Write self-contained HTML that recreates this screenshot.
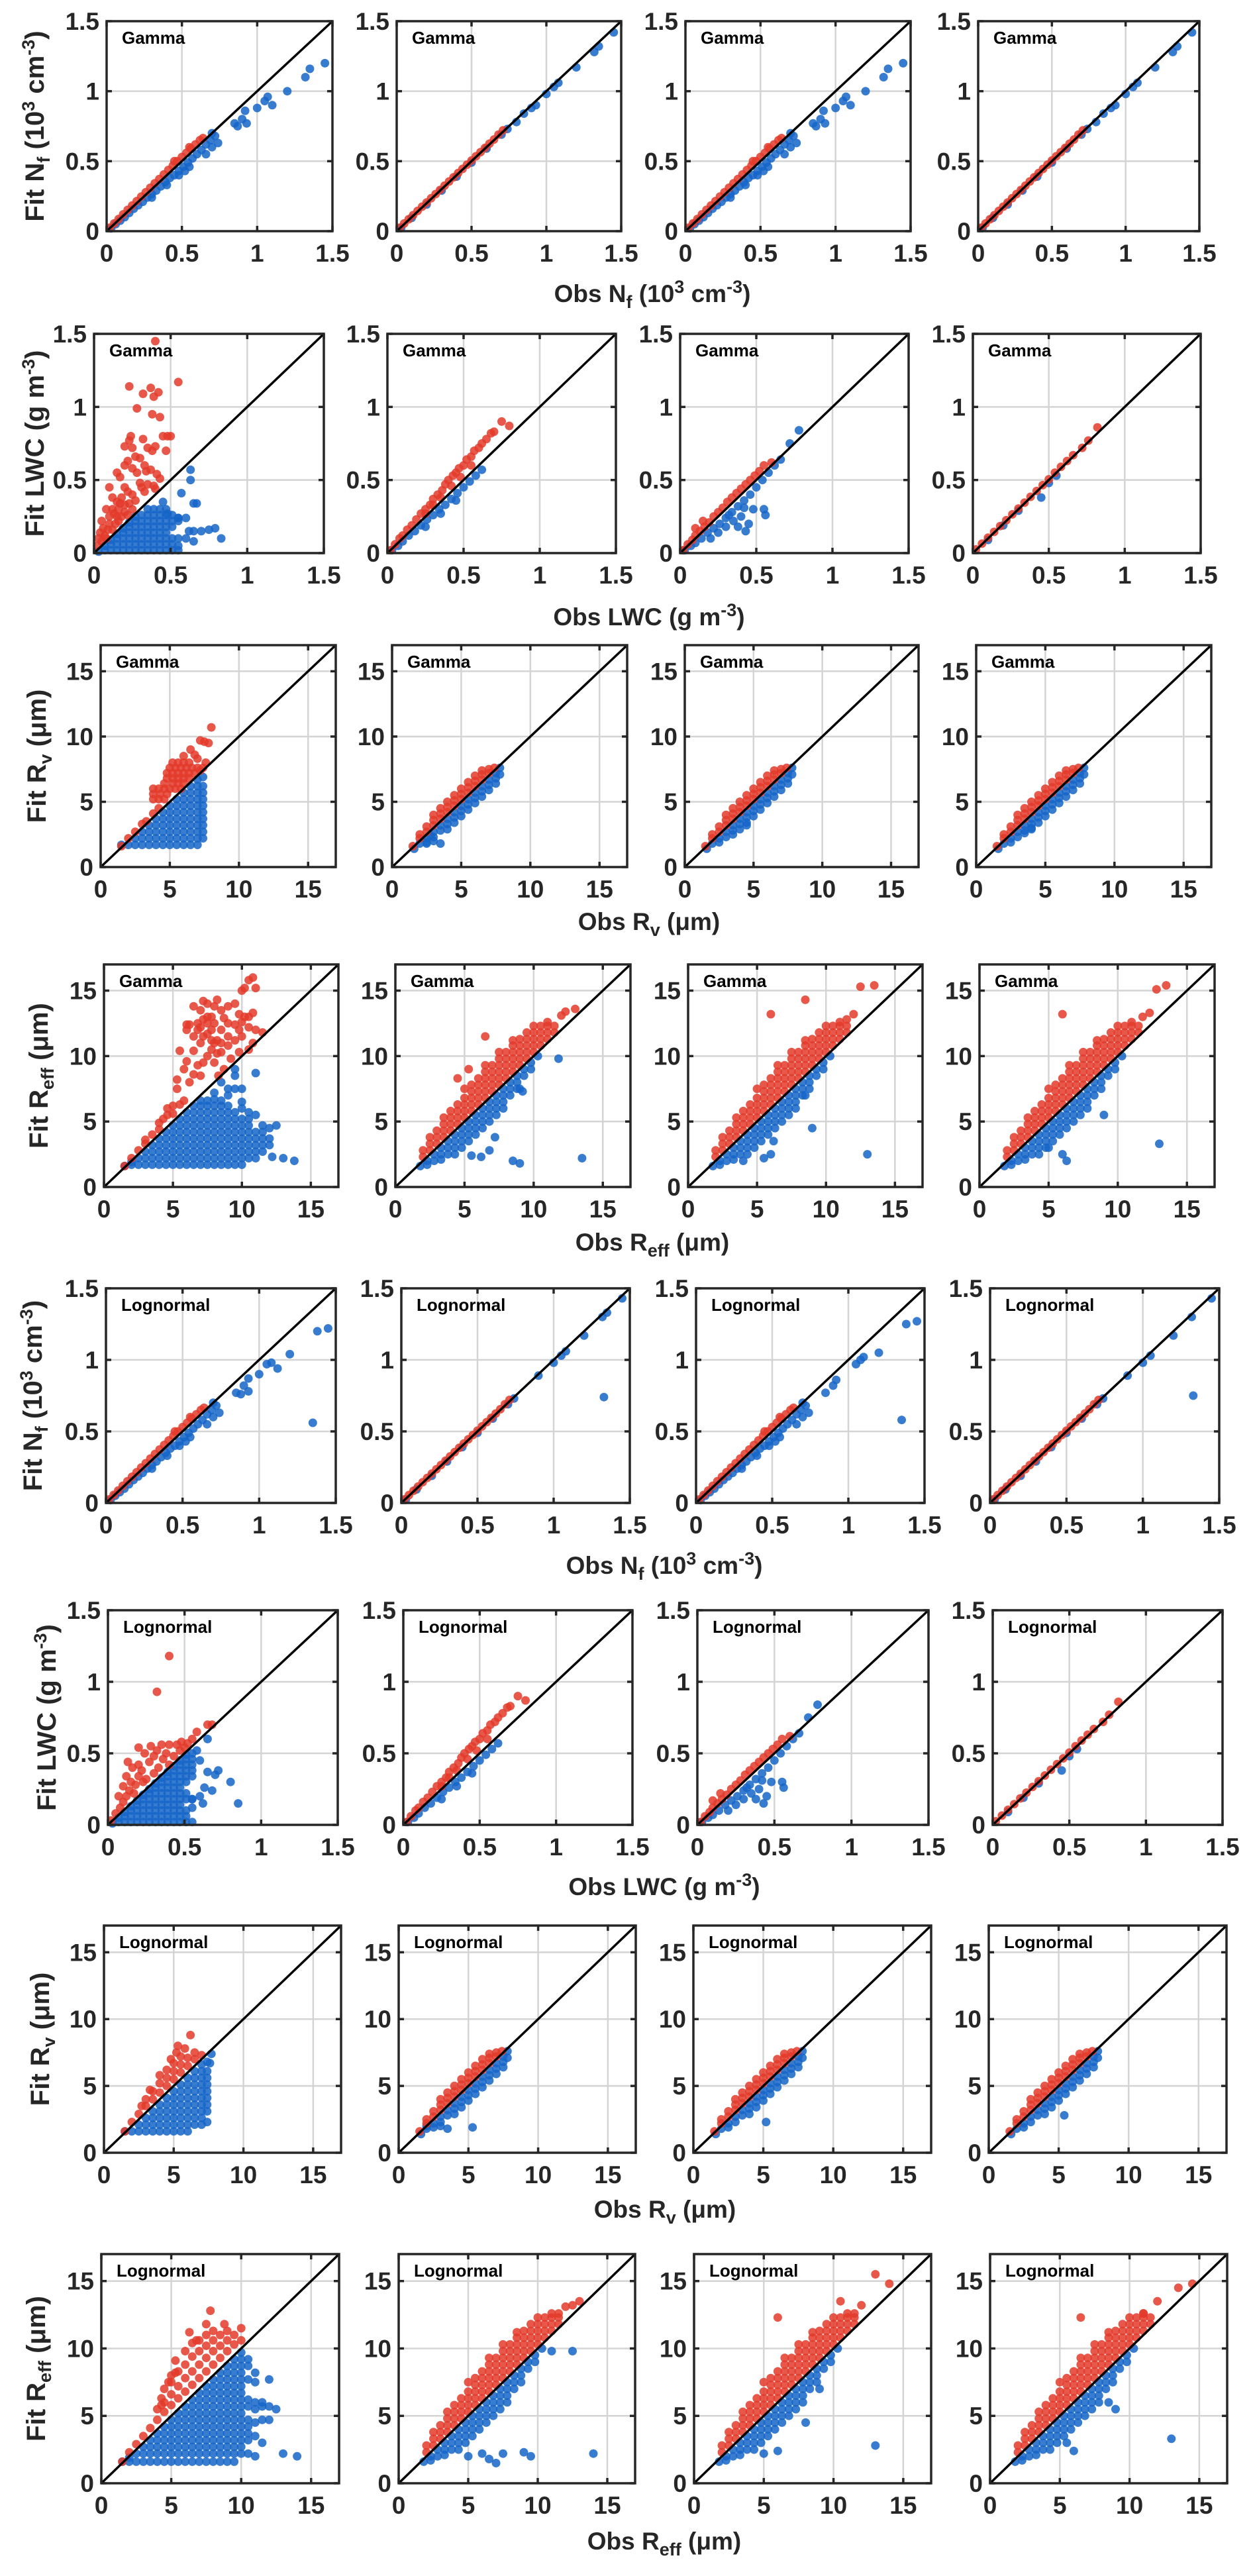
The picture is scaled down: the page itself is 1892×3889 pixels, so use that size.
<!DOCTYPE html>
<html><head><meta charset="utf-8"><title>Fit vs Obs scatter panels</title>
<style>
html,body{margin:0;padding:0;background:#fff;}
svg{display:block;font-family:"Liberation Sans",Arial,sans-serif;font-weight:bold;}
</style></head>
<body>
<svg id="fig" width="1892" height="3889" viewBox="0 0 1892 3889" xmlns="http://www.w3.org/2000/svg"></svg>
<script>
// ---------- DATA (entries are [x,y] or [x,[y1,y2,...]]) ----------
const nfTicks = [0, 0.5, 1, 1.5];
const nfTickLabels = ['0', '0.5', '1', '1.5'];
const rTicks = [0, 5, 10, 15];
const rTickLabels = ['0', '5', '10', '15'];

// Nf
const nfAboveRed = [[0.02,0.025],[0.05,0.056],[0.08,0.087],[0.11,0.12],[0.14,0.152],[0.17,0.183],[0.2,0.215],[0.23,0.247],[0.26,0.278],[0.29,0.31],[0.32,0.342],[0.35,0.373],[0.38,0.405],[0.41,0.437],[0.44,0.468],[0.47,0.5],[0.5,0.53],[0.53,0.56],[0.56,0.59],[0.59,0.62],[0.62,0.65],[0.64,0.665],[0.45,0.5],[0.55,0.6]];
const nfBelowBlue = [[0.03,0.02],[0.06,0.05],[0.09,0.075],[0.12,0.1],[0.15,0.13],[0.18,0.16],[0.21,0.185],[0.24,0.21],[0.27,0.24],[0.3,0.265],[0.33,0.29],[0.36,0.32],[0.39,0.35],[0.42,0.38],[0.45,0.4],[0.48,0.43],[0.51,0.46],[0.54,0.49],[0.57,0.52],[0.6,0.55],[0.63,0.58],[0.66,0.62],[0.69,0.65],[0.72,0.68],[0.3,0.24],[0.4,0.33],[0.48,0.4],[0.52,0.43],[0.55,0.46],[0.7,0.6],[0.74,0.63],[0.66,0.55],[0.7,0.7]];
const nfOnRed = [[0.02,0.025],[0.05,0.055],[0.08,0.085],[0.11,0.115],[0.14,0.145],[0.17,0.175],[0.2,0.205],[0.23,0.235],[0.26,0.265],[0.29,0.295],[0.32,0.325],[0.35,0.355],[0.38,0.385],[0.41,0.415],[0.44,0.445],[0.47,0.475],[0.5,0.505],[0.53,0.535],[0.56,0.565],[0.59,0.595],[0.62,0.625],[0.65,0.655],[0.68,0.69],[0.71,0.72]];
const nfOnBlue = [[0.03,0.025],[0.1,0.095],[0.2,0.19],[0.3,0.29],[0.4,0.39],[0.5,0.49],[0.6,0.59],[0.7,0.69],[0.74,0.73]];
const nfG1Out = [[0.85,0.77],[0.87,0.75],[0.9,0.8],[0.92,0.86],[0.93,0.77],[1.0,0.88],[1.05,0.93],[1.07,0.96],[1.1,0.9],[1.2,1.0],[1.32,1.1],[1.35,1.16],[1.45,1.2]];
const nfG2Out = [[0.8,0.78],[0.85,0.84],[0.9,0.88],[0.93,0.9],[1.0,0.98],[1.05,1.03],[1.08,1.06],[1.2,1.17],[1.32,1.28],[1.35,1.32],[1.45,1.42]];
const nfL1Out = [[0.85,0.77],[0.88,0.76],[0.9,0.82],[0.93,0.78],[0.93,0.87],[1.0,0.9],[1.05,0.97],[1.08,0.98],[1.12,0.94],[1.2,1.04],[1.35,0.56],[1.38,1.2],[1.45,1.22]];
const nfL2Out = [[0.9,0.89],[1.0,0.98],[1.05,1.03],[1.08,1.06],[1.2,1.17],[1.32,1.3],[1.35,1.33],[1.45,1.43],[1.33,0.74]];
const nfL3Out = [[0.85,0.77],[0.9,0.82],[0.92,0.86],[1.05,0.97],[1.08,1.0],[1.1,1.02],[1.2,1.05],[1.35,0.58],[1.38,1.25],[1.45,1.27]];
const nfL4Out = [[0.9,0.89],[1.0,0.98],[1.05,1.03],[1.2,1.17],[1.32,1.3],[1.45,1.43],[1.33,0.75]];

// LWC
const lwcG1Red = [[0.4,1.45],[0.55,1.17],[0.23,1.14],[0.37,1.13],[0.32,1.09],[0.42,1.1],[0.39,1.07],[0.28,0.99],[0.38,0.95],[0.43,0.93],[0.45,0.8],[0.48,0.8],[0.5,0.8],[0.24,0.8],[0.23,0.77],[0.32,0.78],[0.2,0.73],[0.25,0.72],[0.35,0.72],[0.38,0.7],[0.4,0.73],[0.47,0.7],[0.27,0.66],[0.3,0.65],[0.33,0.6],[0.22,0.63],[0.2,0.6],[0.25,0.58],[0.28,0.55],[0.34,0.56],[0.37,0.57],[0.41,0.54],[0.43,0.51],[0.15,0.55],[0.17,0.52],[0.3,0.48],[0.31,0.45],[0.35,0.47],[0.39,0.46],[0.4,0.44],[0.33,0.42],[0.1,0.45],[0.2,0.45],[0.22,0.42],[0.25,0.4],[0.18,0.38],[0.12,0.38],[0.27,0.36],[0.15,0.35],[0.2,0.33],[0.08,0.3],[0.12,0.3],[0.16,0.3],[0.2,0.28],[0.25,0.3],[0.05,0.22],[0.1,0.25],[0.15,0.25],[0.22,0.26],[0.06,0.17],[0.1,0.2],[0.14,0.2],[0.03,0.1],[0.07,0.12],[0.12,0.16],[0.02,0.05],[0.05,0.08],[0.08,0.1],[0.16,0.22],[0.18,0.25],[0.04,0.14],[0.09,0.16],[0.13,0.27],[0.17,0.34],[0.23,0.34]];
const lwcG1Blue = [[0.03,[0.01]],[0.07,[0.02,0.05]],[0.11,[0.02,0.06,0.09]],[0.15,[0.02,0.06,0.1,0.13]],[0.19,[0.02,0.06,0.1,0.14,0.17]],[0.23,[0.02,0.06,0.1,0.14,0.18,0.21]],[0.27,[0.02,0.06,0.1,0.14,0.18,0.22,0.25]],[0.31,[0.02,0.06,0.1,0.14,0.18,0.22,0.26]],[0.35,[0.02,0.06,0.1,0.14,0.18,0.22,0.26,0.3]],[0.39,[0.02,0.06,0.1,0.14,0.18,0.22,0.26,0.3]],[0.43,[0.02,0.06,0.1,0.14,0.18,0.22,0.26,0.3]],[0.47,[0.02,0.06,0.1,0.14,0.18,0.22,0.26,0.3]],[0.51,[0.02,0.06,0.1,0.18,0.22,0.26]],[0.55,[0.02,0.1,0.22,0.24]],[0.63,0.57],[0.63,0.5],[0.57,0.41],[0.67,0.34],[0.65,0.34],[0.6,0.24],[0.55,0.24],[0.62,0.15],[0.65,0.15],[0.7,0.15],[0.75,0.16],[0.79,0.17],[0.83,0.1],[0.6,0.1],[0.65,0.08],[0.55,0.05],[0.45,0.35],[0.48,0.27]];
const lwcStepRed = [[0.02,0.02],[0.05,0.06],[0.08,0.1],[0.1,0.12],[0.13,0.16],[0.16,0.19],[0.19,0.23],[0.22,0.27],[0.25,0.3],[0.28,0.33],[0.3,0.37],[0.33,0.4],[0.36,0.43],[0.38,0.47],[0.4,0.5],[0.43,0.53],[0.45,0.55],[0.47,0.58],[0.5,0.6],[0.52,0.64],[0.55,0.66],[0.57,0.7],[0.6,0.72],[0.62,0.75],[0.65,0.78],[0.68,0.82],[0.7,0.83],[0.75,0.9],[0.8,0.87],[0.35,0.38],[0.42,0.46],[0.48,0.52],[0.55,0.6],[0.3,0.33],[0.25,0.27]];
const lwcStepBlue = [[0.03,0.02],[0.07,0.05],[0.1,0.08],[0.14,0.12],[0.18,0.15],[0.22,0.19],[0.26,0.23],[0.3,0.26],[0.34,0.3],[0.38,0.33],[0.42,0.37],[0.46,0.41],[0.5,0.45],[0.54,0.49],[0.58,0.53],[0.62,0.57],[0.45,0.36],[0.35,0.27],[0.25,0.18]];
const lwcMidRed = [[0.02,0.02],[0.05,0.06],[0.08,0.09],[0.1,0.12],[0.13,0.15],[0.16,0.18],[0.19,0.21],[0.22,0.25],[0.25,0.28],[0.28,0.31],[0.31,0.35],[0.34,0.38],[0.37,0.41],[0.4,0.44],[0.43,0.47],[0.46,0.5],[0.49,0.53],[0.52,0.56],[0.55,0.6],[0.6,0.62],[0.15,0.22],[0.1,0.17]];
const lwcMidBlue = [[0.03,0.02],[0.07,0.05],[0.1,0.07],[0.14,0.1],[0.18,0.14],[0.22,0.17],[0.26,0.2],[0.3,0.24],[0.34,0.28],[0.38,0.32],[0.42,0.36],[0.46,0.4],[0.5,0.45],[0.54,0.5],[0.58,0.55],[0.62,0.6],[0.66,0.64],[0.72,0.75],[0.78,0.84],[0.2,0.1],[0.25,0.14],[0.3,0.18],[0.35,0.22],[0.4,0.25],[0.43,0.15],[0.45,0.2],[0.55,0.3],[0.56,0.26],[0.48,0.3],[0.38,0.18],[0.32,0.26],[0.42,0.31]];
const lwcOnRed = [[0.02,0.025],[0.06,0.065],[0.1,0.105],[0.14,0.145],[0.18,0.185],[0.22,0.225],[0.26,0.265],[0.3,0.305],[0.34,0.345],[0.38,0.385],[0.42,0.425],[0.46,0.465],[0.5,0.505],[0.54,0.55],[0.58,0.59],[0.62,0.63],[0.66,0.67],[0.72,0.72],[0.76,0.77],[0.82,0.86]];
const lwcOnBlue = [[0.1,0.09],[0.2,0.19],[0.3,0.29],[0.45,0.38],[0.5,0.48],[0.55,0.53]];
const lwcL1Red = [[0.02,0.03],[0.05,0.08],[0.08,0.12],[0.1,0.16],[0.12,0.2],[0.14,0.24],[0.15,0.3],[0.18,0.28],[0.2,0.34],[0.2,0.42],[0.22,0.38],[0.24,0.5],[0.25,0.32],[0.27,0.44],[0.28,0.55],[0.3,0.36],[0.3,0.48],[0.32,0.52],[0.33,0.4],[0.35,0.56],[0.36,0.46],[0.38,0.5],[0.4,0.42],[0.4,0.56],[0.43,0.48],[0.45,0.56],[0.47,0.52],[0.48,0.58],[0.5,0.54],[0.12,0.34],[0.16,0.4],[0.1,0.27],[0.07,0.2],[0.4,1.18],[0.32,0.93],[0.68,0.7],[0.65,0.7],[0.58,0.65],[0.55,0.6],[0.52,0.57],[0.23,0.3],[0.17,0.22],[0.13,0.44],[0.2,0.54]];
const lwcL1Blue = [[0.03,[0.01]],[0.07,[0.02,0.05]],[0.11,[0.02,0.06,0.09]],[0.15,[0.02,0.06,0.1,0.13]],[0.19,[0.02,0.06,0.1,0.14,0.17]],[0.23,[0.02,0.06,0.1,0.14,0.18,0.21]],[0.27,[0.02,0.06,0.1,0.14,0.18,0.22,0.25]],[0.31,[0.02,0.06,0.1,0.14,0.18,0.22,0.26,0.29]],[0.35,[0.02,0.06,0.1,0.14,0.18,0.22,0.26,0.3,0.33]],[0.39,[0.02,0.06,0.1,0.14,0.18,0.22,0.26,0.3,0.34,0.37]],[0.43,[0.02,0.06,0.1,0.14,0.18,0.22,0.26,0.3,0.34,0.38,0.41]],[0.47,[0.02,0.06,0.1,0.14,0.18,0.22,0.26,0.3,0.34,0.38,0.42,0.45]],[0.51,[0.02,0.06,0.1,0.18,0.22,0.3,0.34,0.38,0.42,0.46,0.49]],[0.55,[0.02,0.12,0.18,0.34,0.38,0.42,0.46,0.5]],[0.65,0.6],[0.65,0.37],[0.7,0.35],[0.72,0.38],[0.8,0.3],[0.6,0.2],[0.55,0.18],[0.62,0.15],[0.85,0.15],[0.58,0.52],[0.6,0.45],[0.63,0.26],[0.68,0.24]];

// Rv
const rvBandRed = [[1.5,[1.6]],[2,[2.2,2.5]],[2.5,[2.7,3.1]],[3,[3.2,3.6,4.0]],[3.5,[3.7,4.1,4.5]],[4,[4.2,4.6,5.0]],[4.5,[4.7,5.1,5.5]],[5,[5.2,5.6,6.0]],[5.5,[5.7,6.1,6.5]],[6,[6.2,6.6,7.0]],[6.5,[6.7,7.1,7.4]],[7,[7.2,7.5]],[7.4,[7.6]]];
const rvBandBlue = [[1.6,[1.4]],[2,[1.8]],[2.5,[2.2,1.9]],[3,[2.7,2.3]],[3.5,[3.2,2.8]],[4,[3.7,3.3,2.9]],[4.5,[4.2,3.8,3.4]],[5,[4.7,4.3,3.9]],[5.5,[5.2,4.8,4.4]],[6,[5.7,5.3,4.9]],[6.5,[6.2,5.8,5.4]],[7,[6.7,6.3,5.9]],[7.5,[7.2,6.8,6.4]],[7.8,[7.6,7.1]]];
const rvG2Out = [[2.5,1.8],[3,2.0],[3.5,1.8],[2.8,2.4]];
const rvG3Out = [[3.5,2.5],[4.5,3.2]];
const rvG4Out = [[3.5,2.6],[4,3.0]];
const rvL2Out = [[2,2],[3,2],[3.5,1.8],[5.3,1.9]];
const rvL3Out = [[5.2,2.3]];
const rvL4Out = [[5.4,2.8]];
const rvG1Red = [[1.5,[1.6]],[2,[2.2]],[2.5,[2.7]],[3,[3.3]],[3.3,[3.5]],[3.8,[4.1,5.2,5.6,6.0]],[4.2,[4.5,5.2,6.0]],[4.3,[5.6]],[4.6,[5.2,6.0,6.4]],[4.8,[5.6,6.8,7.2]],[5.0,[6.0,7.6]],[5.2,[6.4,6.8,7.2,8.0]],[5.4,[6.0,7.6]],[5.6,[6.4,6.8,7.2,8.0]],[5.8,[6.0,7.6]],[6.0,[6.4,6.8,7.2,8.0,8.5]],[6.2,[7.6]],[6.4,[6.8,7.2,8.0]],[6.6,[7.6]],[6.8,[7.2,8.6]],[7.0,[7.6,8.3]],[7.2,[7.4,9.7]],[7.4,[7.6]],[7.6,[8.0]],[6.5,[9.0]],[7.5,[9.6]],[7.8,[9.5]],[8,[10.7]]];
const rvG1Blue = [[1.5,[1.7]],[2,[1.7]],[2.5,[1.7,2.2]],[3,[1.7,2.2,2.7]],[3.5,[1.7,2.2,2.7,3.2]],[4,[1.7,2.2,2.7,3.2,3.7]],[4.5,[1.7,2.2,2.7,3.2,3.7,4.2]],[5,[1.7,2.2,2.7,3.2,3.7,4.2,4.7]],[5.5,[1.7,2.2,2.7,3.2,3.7,4.2,4.7,5.2]],[6,[1.7,2.2,2.7,3.2,3.7,4.2,4.7,5.2,5.7]],[6.5,[1.7,2.2,2.7,3.2,3.7,4.2,4.7,5.2,5.7,6.2]],[7,[1.7,2.2,2.7,3.2,3.7,4.2,4.7,5.2,5.7,6.2,6.7]],[7.4,[2.2,2.7,3.2,3.7,4.2,4.7,5.2,5.7,6.2,6.9]]];
const rvL1Red = [[1.5,[1.6]],[2,[2.3]],[2.5,[2.9]],[2.7,[3.5]],[3,[3.5,4.0]],[3.3,[4.7]],[3.5,[4.0,4.6]],[4,[4.5,5.2,5.8]],[4.5,[5.0,5.6,6.2]],[4.8,[7.0]],[5,[5.5,6.1,6.7]],[5.2,[7.5]],[5.3,[8.0]],[5.5,[6.0,6.6,7.2]],[5.8,[7.8]],[6,[6.5,7.1]],[6.2,[8.8]],[6.5,[7.0,7.5]],[7,[7.3]]];
const rvL1Blue = [[1.5,[1.6]],[2,[1.6]],[2.5,[1.6,2.1]],[3,[1.6,2.1,2.6]],[3.5,[1.6,2.1,2.6,3.1]],[4,[1.6,2.1,2.6,3.1,3.6]],[4.5,[1.6,2.1,2.6,3.1,3.6,4.1]],[5,[1.6,2.1,2.6,3.1,3.6,4.1,4.6]],[5.5,[1.6,2.1,2.6,3.1,3.6,4.1,4.6,5.1]],[6,[1.6,2.1,2.6,3.1,3.6,4.1,4.6,5.1,5.6]],[6.5,[2.1,2.6,3.1,3.6,4.1,4.6,5.1,5.6,6.1]],[7,[2.1,2.6,3.1,3.6,4.1,4.6,5.1,5.6,6.1,6.6]],[7.4,[2.3,3.1,3.6,4.1,4.6,5.1,5.6,6.1,6.8]],[7.7,[7.4]],[7.6,[6.7]]];

// Reff
const reffBandRed = [[2,[2.3,2.8]],[2.5,[2.8,3.3,3.8]],[3,[3.3,3.8,4.3]],[3.5,[3.8,4.3,4.8,5.3]],[4,[4.3,4.8,5.3,5.8]],[4.5,[4.8,5.3,5.8,6.3]],[5,[5.3,5.8,6.3,6.8,7.5]],[5.5,[5.8,6.3,6.8,7.3,7.8]],[6,[6.3,6.8,7.3,7.8,8.3]],[6.5,[6.8,7.3,7.8,8.3,8.8,9.3]],[7,[7.3,7.8,8.3,8.8,9.3]],[7.5,[7.8,8.3,8.8,9.3,9.8,10.3]],[8,[8.3,8.8,9.3,9.8,10.3]],[8.5,[8.8,9.3,9.8,10.3,10.8,11.2]],[9,[9.3,9.8,10.3,10.8,11.3]],[9.5,[9.8,10.3,10.8,11.3,11.8]],[10,[10.3,10.8,11.3,11.8,12.3]],[10.5,[10.8,11.3,11.8,12.3]],[11,[11.3,11.8,12.3,12.6]],[11.5,[11.8,12.3]]];
const reffBandBlue = [[1.8,[1.6]],[2.3,[2.0,1.7]],[2.8,[2.5,2.0]],[3.3,[3.0,2.5,2.1]],[3.8,[3.5,3.0,2.5]],[4.3,[4.0,3.5,3.0,2.5]],[4.8,[4.5,4.0,3.5,3.0]],[5.3,[5.0,4.5,4.0,3.5]],[5.8,[5.5,5.0,4.5,4.0]],[6.3,[6.0,5.5,5.0,4.5]],[6.8,[6.5,6.0,5.5,5.0]],[7.3,[7.0,6.5,6.0,5.5]],[7.8,[7.5,7.0,6.5,6.0]],[8.3,[8.0,7.5,7.0]],[8.8,[8.5,8.0,7.5]],[9.3,[9.0,8.5]],[9.8,[9.5,9.0]],[10.3,[10.0]]];
const reffG2RedOut = [[6.5,11.5],[4.5,8.3],[5.3,9.0],[12.3,13.4],[13,13.6],[12,13.1]];
const reffG2BlueOut = [[6.2,2.3],[6.8,2.8],[8.5,2.0],[9,1.8],[13.5,2.2],[5.5,2.4],[7.2,3.8],[11.8,9.8],[9,7.5],[9.2,7.3]];
const reffG3RedOut = [[6,13.2],[8.5,14.3],[12.5,15.3],[13.5,15.4],[12,13.2],[11.5,12.8]];
const reffG3BlueOut = [[9,4.5],[6,2.5],[5.5,2.2],[13,2.5],[8.5,7],[6.2,3.5],[4,2]];
const reffG4RedOut = [[6,13.2],[12.8,15.1],[13.5,15.4],[11.8,13],[12.3,13.3]];
const reffG4BlueOut = [[9,5.5],[13,3.3],[6,2.5],[6.3,2],[5,3]];
const reffL2RedOut = [[13,13.5],[12,13.1],[11.5,12.6],[12.5,13.2]];
const reffL2BlueOut = [[9.5,2.0],[14,2.2],[12.5,9.8],[11,9.8],[5,2],[6,2.2],[7,1.5],[7.5,2.2],[6.5,1.8],[9,2.3]];
const reffL3RedOut = [[12,13.2],[13,15.5],[14,14.8],[6,12.3],[10.5,13.5],[11.5,12.6]];
const reffL3BlueOut = [[8,4.5],[5,2.2],[13,2.8],[9,7],[6,2.4]];
const reffL4RedOut = [[12,13.5],[13.5,14.5],[14.5,14.8],[6.5,12.3],[11,12.6]];
const reffL4BlueOut = [[13,3.3],[6,2.4],[9,5.5],[8.5,6],[5.5,3]];
const reffG1Red = [[1.5,[1.6]],[2,[2.2]],[2.5,[2.8]],[3,[3.3,3.6]],[3.5,[4.0]],[4,[4.4,4.9]],[4.3,[5.2]],[4.6,[5.5,6.0]],[5,[5.6,6.2]],[5.3,[7.5,8.2]],[5.5,[6.3,10.4]],[5.8,[9.0,6.6]],[6,[9.6,12.0,12.4]],[6.2,[8.0,12.4]],[6.5,[8.6,10.4,11.5,13.8]],[6.8,[9.3,12.5,12.0]],[7,[8.5,11.0,13.5,12.2]],[7.2,[9.5,12.8,14.2,11.5]],[7.5,[10.0,11.7,14.0,13.0,12.5]],[7.8,[10.5,13.0,12.0,11.2]],[8,[9.5,12.5,13.8,11.0]],[8.2,[11.2,14.3,10.2]],[8.5,[10.3,12.0,13.5,11.0]],[8.7,[9.0,12.9]],[9,[10.8,12.5,13.8,11.5]],[9.2,[9.8]],[9.5,[11.2,12.4,14.0]],[9.8,[10.3,13.2,12.0]],[10,[11.5,12.6,15.0]],[10.2,[15.2,13.0]],[10.5,[10.5,13.0,15.8,12.2]],[10.8,[11.0,13.3,16.0]],[11,[12.0,15.2]],[11.5,[11.8]],[8.3,[8.5]]];
const reffG1Blue = [[1.5,[1.6]],[2,[1.7,1.9]],[2.5,[1.7,2.2]],[3,[1.7,2.2,2.7]],[3.5,[1.7,2.2,2.7,3.2]],[4,[1.7,2.2,2.7,3.2,3.7]],[4.5,[1.7,2.2,2.7,3.2,3.7,4.2]],[5,[1.7,2.2,2.7,3.2,3.7,4.2,4.7]],[5.5,[1.7,2.2,2.7,3.2,3.7,4.2,4.7,5.2]],[6,[1.7,2.2,2.7,3.2,3.7,4.2,4.7,5.2,5.7]],[6.5,[1.7,2.2,2.7,3.2,3.7,4.2,4.7,5.2,5.7,6.2]],[7,[1.7,2.2,2.7,3.2,3.7,4.2,4.7,5.2,5.7,6.2,6.6]],[7.5,[1.7,2.2,2.7,3.2,3.7,4.2,4.7,5.2,5.7,6.2,6.6]],[8,[1.7,2.2,2.7,3.2,3.7,4.2,4.7,5.2,5.7,6.2,6.7,7.2]],[8.5,[1.7,2.2,2.7,3.2,3.7,4.2,4.7,5.2,5.7,6.2,6.6,8.0]],[9,[1.7,2.2,2.7,3.2,3.7,4.2,4.7,5.2,5.7,6.2,7.0,7.5]],[9.5,[1.7,2.2,2.7,3.2,3.7,4.2,4.7,5.2,5.7,7.5,8.5,9.0]],[10,[1.7,2.2,2.7,3.2,3.7,4.2,4.7,5.2,6.0,6.5,7.5]],[10.5,[2.2,2.7,3.2,3.7,4.2,4.7,5.2,5.7]],[11,[2.2,2.7,3.2,3.7,4.2,5.5,8.7]],[11.5,[2.7,3.2,3.7,4.2,4.7]],[12,[3.2,3.7,4.5]],[12.5,[4.7]],[12.2,[2.3]],[13,[2.2]],[13.8,[2.0]]];
const reffL1Red = [[1.5,[1.6]],[2,[2.3]],[2.5,[2.9]],[3,[3.5]],[3.5,[4.1]],[4,[4.7,5.5]],[4.3,[5.8,6.3]],[4.5,[5.3,6.0,7.0]],[4.8,[7.5]],[5,[5.8,6.6,7.5,8.0]],[5.3,[8.2,9.1]],[5.5,[6.3,7.2,8.3]],[6,[6.8,7.8,8.8,9.8]],[6.3,[11.2]],[6.5,[7.3,8.3,9.4,10.4]],[6.8,[10.6]],[7,[7.8,8.8,9.8,10.6]],[7.5,[8.3,9.3,10.2,11.0,11.8]],[7.8,[12.8]],[8,[8.8,9.8,10.6,11.3]],[8.5,[9.3,10.2,11.0]],[8.8,[11.8]],[9,[9.8,10.6,11.3]],[9.5,[10.3,11.0]],[10,[10.6,11.5]]];
const reffL1Blue = [[1.5,[1.6]],[2,[1.6,1.9]],[2.5,[1.6,2.2]],[3,[1.6,2.2,2.7]],[3.5,[1.6,2.2,2.7,3.2]],[4,[1.6,2.2,2.7,3.2,3.7]],[4.5,[1.6,2.2,2.7,3.2,3.7,4.2]],[5,[1.6,2.2,2.7,3.2,3.7,4.2,4.7]],[5.5,[1.6,2.2,2.7,3.2,3.7,4.2,4.7,5.2]],[6,[1.6,2.2,2.7,3.2,3.7,4.2,4.7,5.2,5.7]],[6.5,[1.6,2.2,2.7,3.2,3.7,4.2,4.7,5.2,5.7,6.2]],[7,[1.6,2.2,2.7,3.2,3.7,4.2,4.7,5.2,5.7,6.2,6.7]],[7.5,[1.6,2.2,2.7,3.2,3.7,4.2,4.7,5.2,5.7,6.2,6.7,7.2]],[8,[1.6,2.2,2.7,3.2,3.7,4.2,4.7,5.2,5.7,6.2,6.7,7.2,7.7]],[8.5,[1.6,2.2,2.7,3.2,3.7,4.2,4.7,5.2,5.7,6.2,6.7,7.2,7.7,8.2]],[9,[1.6,2.2,2.7,3.2,3.7,4.2,4.7,5.2,5.7,6.2,6.7,7.2,7.7,8.2,8.7]],[9.5,[1.6,2.2,2.7,3.2,3.7,4.2,4.7,5.2,5.7,6.2,6.7,7.2,7.7,8.2,8.7,9.2]],[10,[2.2,2.7,3.2,3.7,4.2,4.7,5.2,5.7,6.2,6.7,7.2,7.7,8.2,8.7,9.2,9.7]],[10.5,[2.2,3.2,3.7,4.2,4.7,5.7,6.2,7.7,8.7,9.2]],[11,[2.0,3.5,4.5,5.5,6.0,7.5,8.2]],[11.5,[3.0,4.7,5.7,6.0]],[12,[4.7,5.7,7.7]],[12.5,[5.5]],[13,[2.2]],[14,[2.0]]];

// ---------- LAYOUT ----------
const ROWS = [
 {top:32,  bot:349,  L:[161,599,1035,1477], R:[502,938,1375,1811], ylx:66, xlY:443,  xlX:985},
 {top:504, bot:835,  L:[142,585,1027,1469], R:[489,930,1372,1813], ylx:66, xlY:931,  xlX:980},
 {top:974, bot:1309, L:[152,592,1034,1474], R:[507,947,1387,1829], ylx:69, xlY:1391, xlX:980},
 {top:1456,bot:1792, L:[157,597,1039,1479], R:[511,952,1393,1834], ylx:72, xlY:1875, xlX:985},
 {top:1945,bot:2269, L:[160,606,1051,1495], R:[507,951,1396,1841], ylx:63, xlY:2363, xlX:1003},
 {top:2431,bot:2755, L:[163,609,1053,1499], R:[510,955,1402,1846], ylx:84, xlY:2848, xlX:1003},
 {top:2907,bot:3250, L:[157,602,1047,1493], R:[515,960,1406,1852], ylx:74, xlY:3335, xlX:1004},
 {top:3403,bot:3749, L:[153,602,1048,1495], R:[512,959,1406,1853], ylx:68, xlY:3836, xlX:1003}
];
const ROWKIND = ['nf','lwc','rv','reff','nf','lwc','rv','reff'];
const ROWDIST = ['Gamma','Gamma','Gamma','Gamma','Lognormal','Lognormal','Lognormal','Lognormal'];

const PANELS = [
 {r:0,c:0,blue:[nfBelowBlue,nfG1Out],red:[nfAboveRed]},
 {r:0,c:1,blue:[nfOnBlue,nfG2Out],red:[nfOnRed]},
 {r:0,c:2,blue:[nfBelowBlue,nfG1Out],red:[nfAboveRed]},
 {r:0,c:3,blue:[nfOnBlue,nfG2Out],red:[nfOnRed]},
 {r:1,c:0,blue:[lwcG1Blue],red:[lwcG1Red]},
 {r:1,c:1,blue:[lwcStepBlue],red:[lwcStepRed]},
 {r:1,c:2,blue:[lwcMidBlue],red:[lwcMidRed]},
 {r:1,c:3,blue:[lwcOnBlue],red:[lwcOnRed]},
 {r:2,c:0,blue:[rvG1Blue],red:[rvG1Red]},
 {r:2,c:1,blue:[rvBandBlue,rvG2Out],red:[rvBandRed]},
 {r:2,c:2,blue:[rvBandBlue,rvG3Out],red:[rvBandRed]},
 {r:2,c:3,blue:[rvBandBlue,rvG4Out],red:[rvBandRed]},
 {r:3,c:0,blue:[reffG1Blue],red:[reffG1Red]},
 {r:3,c:1,blue:[reffBandBlue,reffG2BlueOut],red:[reffBandRed,reffG2RedOut]},
 {r:3,c:2,blue:[reffBandBlue,reffG3BlueOut],red:[reffBandRed,reffG3RedOut]},
 {r:3,c:3,blue:[reffBandBlue,reffG4BlueOut],red:[reffBandRed,reffG4RedOut]},
 {r:4,c:0,blue:[nfBelowBlue,nfL1Out],red:[nfAboveRed]},
 {r:4,c:1,blue:[nfOnBlue,nfL2Out],red:[nfOnRed]},
 {r:4,c:2,blue:[nfBelowBlue,nfL3Out],red:[nfAboveRed]},
 {r:4,c:3,blue:[nfOnBlue,nfL4Out],red:[nfOnRed]},
 {r:5,c:0,blue:[lwcL1Blue],red:[lwcL1Red]},
 {r:5,c:1,blue:[lwcStepBlue],red:[lwcStepRed]},
 {r:5,c:2,blue:[lwcMidBlue],red:[lwcMidRed]},
 {r:5,c:3,blue:[lwcOnBlue],red:[lwcOnRed]},
 {r:6,c:0,blue:[rvL1Blue],red:[rvL1Red]},
 {r:6,c:1,blue:[rvBandBlue,rvL2Out],red:[rvBandRed]},
 {r:6,c:2,blue:[rvBandBlue,rvL3Out],red:[rvBandRed]},
 {r:6,c:3,blue:[rvBandBlue,rvL4Out],red:[rvBandRed]},
 {r:7,c:0,blue:[reffL1Blue],red:[reffL1Red]},
 {r:7,c:1,blue:[reffBandBlue,reffL2BlueOut],red:[reffBandRed,reffL2RedOut]},
 {r:7,c:2,blue:[reffBandBlue,reffL3BlueOut],red:[reffBandRed,reffL3RedOut]},
 {r:7,c:3,blue:[reffBandBlue,reffL4BlueOut],red:[reffBandRed,reffL4RedOut]}
];

// ---------- RENDER ----------
const NS = 'http://www.w3.org/2000/svg';
const svg = document.getElementById('fig');
const MARKER_R = 6.5;
function mk(tag, attrs, parent){
  const e = document.createElementNS(NS, tag);
  for (const k in attrs) e.setAttribute(k, attrs[k]);
  (parent||svg).appendChild(e);
  return e;
}
function expand(series){
  const pts = [];
  series.forEach(arr => arr.forEach(en => {
    if (Array.isArray(en[1])) en[1].forEach(y => pts.push([en[0], y]));
    else pts.push([en[0], en[1]]);
  }));
  return pts;
}
const LABEL_HTML = {
  nf: (p) => p + ' N<tspan dy="9" font-size="27">f</tspan><tspan dy="-9"> (10</tspan><tspan dy="-14" font-size="27">3</tspan><tspan dy="14"> cm</tspan><tspan dy="-14" font-size="27">-3</tspan><tspan dy="14">)</tspan>',
  lwc: (p) => p + ' LWC (g m<tspan dy="-14" font-size="27">-3</tspan><tspan dy="14">)</tspan>',
  rv: (p) => p + ' R<tspan dy="9" font-size="27">v</tspan><tspan dy="-9"> (μm)</tspan>',
  reff: (p) => p + ' R<tspan dy="9" font-size="27">eff</tspan><tspan dy="-9"> (μm)</tspan>'
};

PANELS.forEach(p => {
  const row = ROWS[p.r];
  const kind = ROWKIND[p.r];
  const max = (kind === 'nf' || kind === 'lwc') ? 1.5 : 17;
  const ticks = (max === 1.5) ? nfTicks : rTicks;
  const tlabels = (max === 1.5) ? nfTickLabels : rTickLabels;
  const L = row.L[p.c], R = row.R[p.c], T = row.top, B = row.bot;
  const sx = v => L + v / max * (R - L);
  const sy = v => B - v / max * (B - T);

  const g = mk('g', {});
  
  

  mk('rect', {x:L, y:T, width:R-L, height:B-T, fill:'#fff'}, g);
  const grid = mk('g', {stroke:'#d4d4d4', 'stroke-width':2.5}, g);
  
  
  ticks.forEach(t => {
    if (t > 0 && t < max) {
      mk('line', {x1:sx(t), x2:sx(t), y1:T, y2:B}, grid);
      mk('line', {x1:L, x2:R, y1:sy(t), y2:sy(t)}, grid);
    }
  });
  const blueG = mk('g', {fill:'#1565c8', 'fill-opacity':0.85}, g);
  
  
  expand(p.blue).forEach(pt => {
    const c = mk('circle', {cx:sx(pt[0]).toFixed(1), cy:sy(pt[1]).toFixed(1), r:MARKER_R}, blueG);
    
    
  });
  const redG = mk('g', {fill:'#e33a2a', 'fill-opacity':0.85}, g);
  
  
  expand(p.red).forEach(pt => {
    const c = mk('circle', {cx:sx(pt[0]).toFixed(1), cy:sy(pt[1]).toFixed(1), r:MARKER_R}, redG);
    
    
  });
  const ln = mk('line', {x1:sx(0), y1:sy(0), x2:sx(max), y2:sy(max), stroke:'#000', 'stroke-width':3.5}, g);
  
  
  const fr = mk('rect', {x:L, y:T, width:R-L, height:B-T, fill:'none', stroke:'#262626', 'stroke-width':3.5}, g);
  
  
  const tg = mk('g', {stroke:'#262626', 'stroke-width':3.5}, g);
  ticks.forEach(t => {
    mk('line', {x1:sx(t), x2:sx(t), y1:B, y2:B-8}, tg);
    mk('line', {x1:sx(t), x2:sx(t), y1:T, y2:T+8}, tg);
    mk('line', {x1:L, x2:L+8, y1:sy(t), y2:sy(t)}, tg);
    mk('line', {x1:R, x2:R-8, y1:sy(t), y2:sy(t)}, tg);
  });
  ticks.forEach((t, i) => {
    const xl = mk('text', {x:sx(t), y:B+46, 'text-anchor':'middle', 'font-size':37, fill:'#262626'}, g);
    xl.textContent = tlabels[i];
    
    
    const yl = mk('text', {x:L-11, y:sy(t)+13, 'text-anchor':'end', 'font-size':37, fill:'#262626'}, g);
    yl.textContent = tlabels[i];
    
    
  });
  const dl = mk('text', {x:L+23, y:T+34, 'font-size':26, fill:'#000'}, g);
  dl.textContent = ROWDIST[p.r];
  
  
});

ROWS.forEach((row, i) => {
  const kind = ROWKIND[i];
  const cy = (row.top + row.bot) / 2;
  const yl = mk('text', {transform:'translate(' + row.ylx + ',' + cy + ') rotate(-90)', 'text-anchor':'middle', 'font-size':40, fill:'#262626'});
  yl.innerHTML = LABEL_HTML[kind]('Fit');
  
  
  const xl = mk('text', {x:row.xlX, y:row.xlY + 13, 'text-anchor':'middle', 'font-size':37, fill:'#262626'});
  xl.innerHTML = LABEL_HTML[kind]('Obs');
  
  
});
</script>
</body></html>
